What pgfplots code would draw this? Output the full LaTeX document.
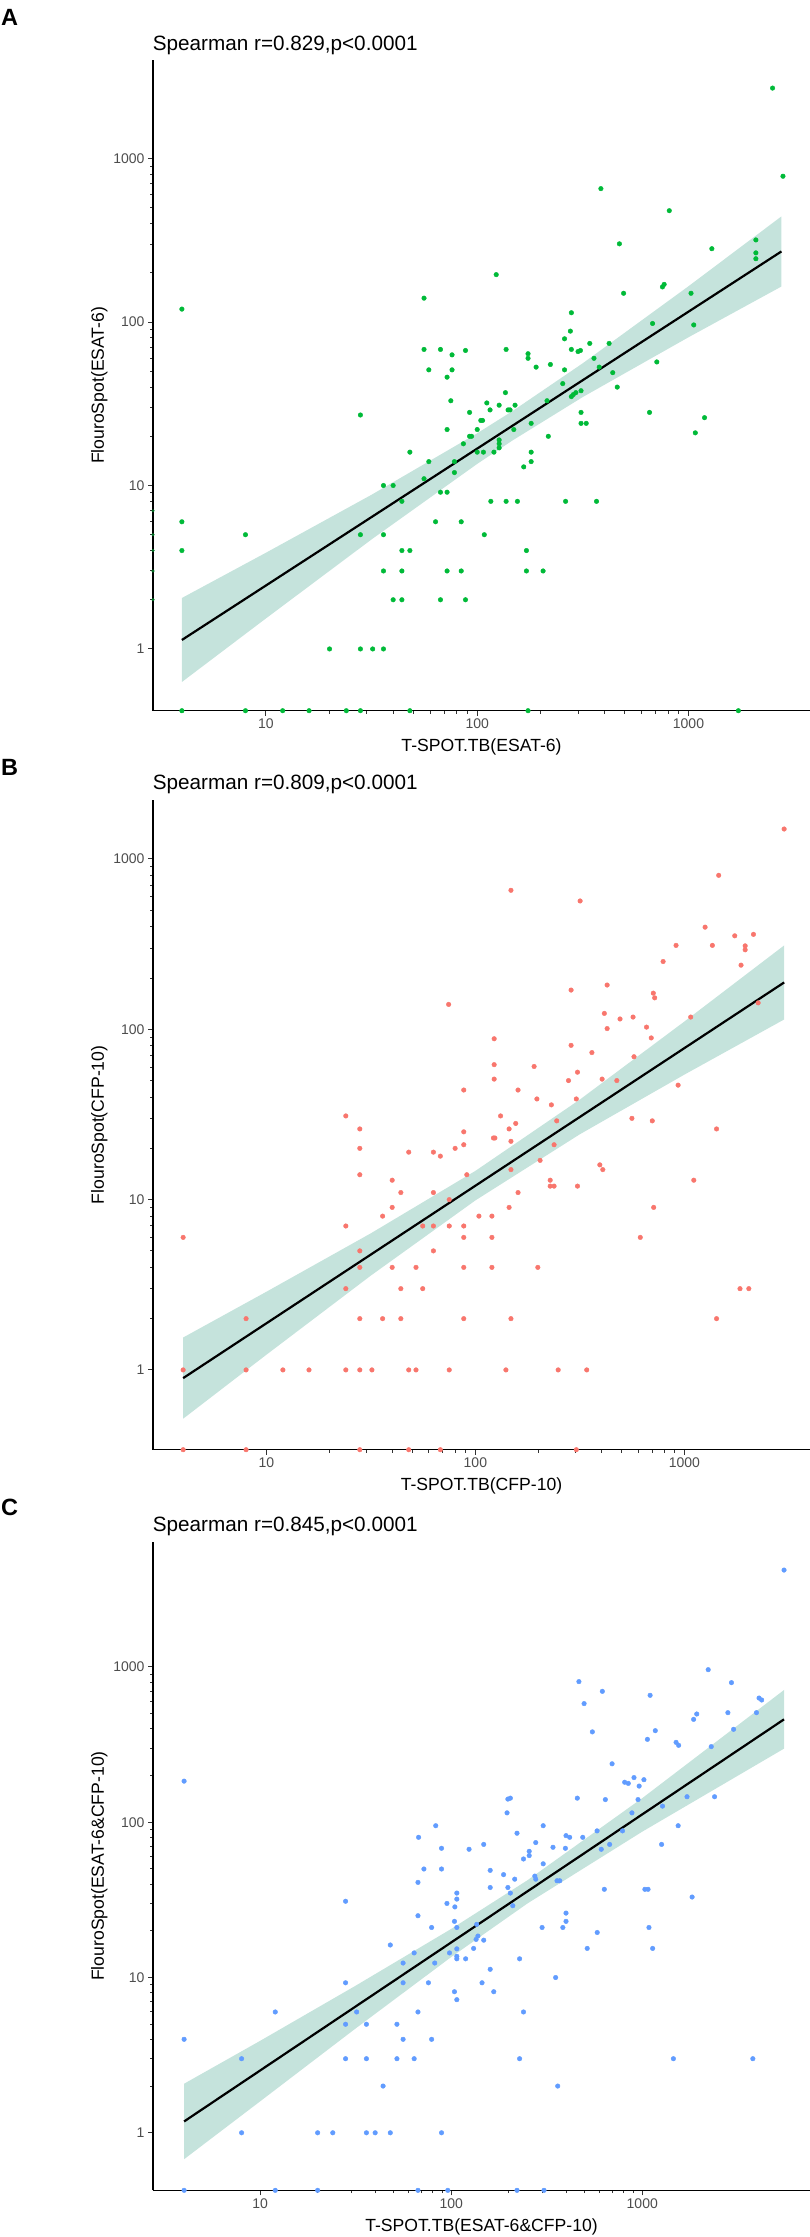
\documentclass[border=0pt]{standalone}
\usepackage{fontspec}
\setmainfont{Liberation Sans}
\usepackage{pgfplots}
\pgfplotsset{compat=1.18}
\definecolor{ggA}{HTML}{00BA38}
\definecolor{ggB}{HTML}{F8766D}
\definecolor{ggC}{HTML}{619CFF}
\definecolor{bandc}{HTML}{74BCAC}
\definecolor{tickgray}{HTML}{4D4D4D}
\newcommand\tickfont{\fontsize{14bp}{16bp}\selectfont}
\newcommand\labfont{\fontsize{17.6bp}{20bp}\selectfont}
\newcommand\titfont{\fontsize{20.7bp}{24bp}\selectfont}
\newcommand\panfont{\fontsize{23.5bp}{26bp}\selectfont\bfseries}
\pgfplotsset{
  mypanel/.style={
    scale only axis, width=657bp,
    axis lines*=left,
    axis line style={draw=black, line width=1.1bp},
    axis on top,
    tick align=outside, major tick length=5bp,
    every tick/.style={draw=black!80, line width=1bp},
    minor xtick={}, minor ytick={},
    xtick={10,100,1000}, xticklabels={10,100,1000},
    ytick={1,10,100,1000}, yticklabels={1,10,100,1000},
    tick label style={font=\tickfont, text=tickgray},
    /pgf/number format/assume math mode=true,
    xlabel style={font=\labfont, at={(axis description cs:0.5,-0.0631)}, anchor=base},
    ylabel style={font=\labfont, at={(axis description cs:-0.0746,0.5)}, anchor=base},
  },
  myband/.style={draw=none, fill=bandc, fill opacity=0.42},
  myfit/.style={draw=black, line width=2.2bp},
}
\begin{document}
\begin{tikzpicture}
\useasboundingbox (0,0) rectangle (810bp,-2237bp);
% ---------------- Panel A ----------------
\begin{axis}[xmode=log, ymode=log, mypanel, at={(153bp,-60bp)}, anchor=north west, height=650.7bp,
  xmin=2.92, xmax=3760, ymin=0.419, ymax=4010,
  xlabel={T-SPOT.TB(ESAT-6)}, ylabel={FlouroSpot(ESAT-6)}]
\addplot[only marks, mark=*, mark size=2.3bp, color=ggA, mark options={draw=none, fill=ggA}] coordinates {
(2500,2700) (2800,780) (385,655) (811,480) (123,195) (471,301) (1290,281)
(2084,318) (2084,265) (2084,244) (56,140) (4,120) (493,150) (1028,150)
(753,164) (767,170) (279,114) (276,88) (259,79) (676,98) (1059,96)
(56,68) (67,68) (88,67) (76,63) (137,68) (174,64) (174,60) (308,67) (300,66)
(279,68) (341,74) (421,74) (357,60) (190,53) (222,55) (259,51) (59,51) (76,51)
(72,46) (378,53) (438,49) (708,57) (460,40) (254,42) (279,35) (293,37) (310,38)
(285,36) (136,37) (75,33) (214,33) (111,32) (127,31) (115,29) (151,31) (140,29)
(143,29) (92,28) (310,28) (654,28) (28,27) (106,25) (104,25) (310,24) (328,24)
(180,24) (1191,26) (72,22) (100,22) (149,22) (1077,21) (94,20) (92,20) (217,20)
(86,18) (127,19) (127,18) (127,17) (48,16) (100,16) (107,16) (120,16) (180,16)
(59,14) (78,14) (166,13) (180,14) (78,12) (56,11)
(36,10) (40,10) (44,8) (67,9.1) (72,9.1) (116,8) (137,8) (155,8) (262,8) (367,8)
(63.5,6) (84,6) (4,6) (8,5) (28,5) (36,5) (108,5)
(4,4) (44,4) (48,4) (171,4)
(36,3) (44,3) (72,3) (84,3) (171,3) (205,3)
(40,2) (44,2) (67,2) (88,2)
(20,1) (28,1) (32,1) (36,1)
(4,0.419) (8,0.419) (12,0.419) (16,0.419) (24,0.419) (28,0.419) (48,0.419) (174,0.419) (1722,0.419)
};
\addplot[only marks, mark=*, mark size=1.3bp, color=ggA!60!black, mark options={draw=none, fill=ggA!60!black}] coordinates {
(2.92,7) (2.92,5) (2.92,4) (2.92,3) (2.92,2)
};
\addplot[myband] coordinates {
(4,2.05) (10,3.88) (31.62,8.78) (100,20.88) (147.9,28.7) (316.2,56.0) (1000,165.6) (2754,443)
(2754,165) (1000,80.7) (316.2,34.8) (147.9,18.97) (100,13.56) (31.62,4.68) (10,1.538) (4,0.628)
};
\addplot[myfit] coordinates {(4,1.135) (2754,270.4)};
\end{axis}
% ---------------- Panel B ----------------
\begin{axis}[xmode=log, ymode=log, mypanel, at={(153bp,-800bp)}, anchor=north west, height=649.7bp,
  xmin=2.87, xmax=3990, ymin=0.34, ymax=2220,
  xlabel={T-SPOT.TB(CFP-10)}, ylabel={FlouroSpot(CFP-10)}]
\addplot[only marks, mark=*, mark size=2.3bp, color=ggB, mark options={draw=none, fill=ggB}] coordinates {
(3000,1500) (148,655) (317,567) (1459,802) (1256,398) (912,311) (1361,311)
(1741,354) (2140,361) (1953,309) (1953,293) (1866,238) (791,250) (427,182)
(287,170) (710,163) (721,153) (2253,143) (74.5,140) (414,124) (492,115) (568,118)
(427,101) (1072,118) (659,103) (694,89) (123,88) (287,80.5) (361,73) (574,69)
(123,62) (191,60.5) (308,56) (123,51) (404,51) (279,50) (475,50) (933,47)
(160,44) (88,44) (197,39) (304,39) (231,36) (24,31) (132,31) (561,30) (245,29)
(156,28) (702,29) (28,26) (145,26) (1425,26) (88,25) (122,23) (124,23) (148,22)
(88,21) (80,20) (28,20) (238,21) (48,19) (63,19) (68,18) (204,17) (394,16)
(407,15) (148,15) (28,14) (91,14) (40,13) (228,13) (1109,13) (44,11) (63,11)
(160,11) (228,12) (238,12) (308,12)
(75,10) (40,9) (145,9) (713,9) (36,8) (104,8) (120,8) (24,7) (56,7) (63,7)
(75,7) (88,7) (4,6) (88,6) (120,6) (615,6) (28,5) (63,5) (28,4) (40,4) (52,4)
(88,4) (120,4) (199,4) (24,3) (44,3) (56,3) (1845,3) (2033,3) (8,2) (28,2)
(36,2) (44,2) (88,2) (148,2) (1425,2)
(4,1) (8,1) (12,1) (16,1) (24,1) (28,1) (32,1) (48,1) (52,1) (75,1) (140,1) (249,1) (341,1)
(4,0.34) (8,0.34) (28,0.34) (48,0.34) (68,0.34) (304,0.34)
};
\addplot[myband] coordinates {
(4,1.55) (10,2.876) (31.62,6.34) (100,14.74) (316.2,38.7) (1000,111.1) (3000,310.8)
(3000,114.2) (1000,54.2) (316.2,24.2) (100,9.89) (31.62,3.58) (10,1.227) (4,0.517)
};
\addplot[myfit] coordinates {(4,0.895) (3000,188.4)};
\end{axis}
% ---------------- Panel C ----------------
\begin{axis}[xmode=log, ymode=log, mypanel, at={(153bp,-1541.7bp)}, anchor=north west, height=648.6bp,
  xmin=2.75, xmax=7550, ymin=0.426, ymax=6410,
  xlabel={T-SPOT.TB(ESAT-6\&CFP-10)}, ylabel={FlouroSpot(ESAT-6\&CFP-10)}]
\addplot[only marks, mark=*, mark size=2.3bp, color=ggC, mark options={draw=none, fill=ggC}] coordinates {
(5520,4210) (4,184) (2213,961) (466,805) (2930,793) (618,697) (1099,657) (496,581)
(4085,631) (4215,613) (3960,508) (2806,508) (1928,498) (1857,460) (548,382)
(1170,389) (3006,397) (1064,342) (1503,327) (1550,313) (2296,307) (695,238)
(809,181) (845,178) (905,194) (1020,188) (963,171) (457,143) (641,140) (950,140)
(1715,146) (2390,146) (198,141) (204,143) (196,115) (883,115) (1276,127)
(1541,95) (83,95) (303,95) (221,85) (580,88) (788,88) (67.5,80) (399,82) (417,80)
(488,80) (1262,72) (675,72) (277,74) (148,72) (341,69) (89,68) (124,67) (396,68)
(610,67) (256,65) (256,61) (239,58) (303,54) (72,50) (89,50) (160,49) (188,46)
(215,43) (277,43) (274,45) (67,41) (358,42) (370,42) (160,38) (198,38) (1032,37)
(1072,37) (633,37) (107,35) (204,35) (1823,33) (107,32) (28,31) (95,30) (104.5,28.5)
(210,29) (67,25) (399,26) (399,23) (104,23) (79,21) (107,21) (384,21) (1084,21)
(136,22) (299,21) (581,19.5) (138,18.5) (135,17.6) (148,17.4) (48,16.2) (131,15.4)
(515,15.4) (1133,15.4) (64,14.4) (98,14.4) (107,15.3) (107,13.7) (107,13.2)
(119,13.2) (228,13.2) (56,12.4) (82,12.4) (160,11.3) (56,9.25) (28,9.25) (76,9.25)
(145,9.25) (352,10) (167,8.1) (104,8.1) (107,7.2) (12,6) (67,6) (239,6) (32,6)
(28,5) (36,5) (52,5) (4,4) (56,4) (79,4) (8,3) (28,3) (36,3) (52,3) (64,3) (228,3)
(1455,3) (3790,3) (44,2) (361,2)
(8,1) (20,1) (24,1) (36,1) (40,1) (48,1) (89,1)
(4,0.426) (12,0.426) (20,0.426) (67,0.426) (96,0.426) (221,0.426) (306,0.426)
};
\addplot[myband] coordinates {
(4,2.07) (10,3.91) (31.62,8.86) (100,20.56) (251.2,42.4) (1000,143) (5520,711)
(5520,298) (1000,87.0) (251.2,30.05) (100,13.55) (31.62,4.70) (10,1.594) (4,0.676)
};
\addplot[myfit] coordinates {(4,1.183) (5520,460)};
\end{axis}
% ---------------- titles and panel letters ----------------
\node[anchor=base west, inner sep=0pt, font=\titfont] at (152.7bp,-50bp) {Spearman r=0.829,p<0.0001};
\node[anchor=base west, inner sep=0pt, font=\titfont] at (152.7bp,-789.4bp) {Spearman r=0.809,p<0.0001};
\node[anchor=base west, inner sep=0pt, font=\titfont] at (152.7bp,-1531bp) {Spearman r=0.845,p<0.0001};
\node[anchor=base west, inner sep=0pt, font=\panfont] at (1bp,-25bp) {A};
\node[anchor=base west, inner sep=0pt, font=\panfont] at (1bp,-775bp) {B};
\node[anchor=base west, inner sep=0pt, font=\panfont] at (1bp,-1515bp) {C};
\end{tikzpicture}
\end{document}
